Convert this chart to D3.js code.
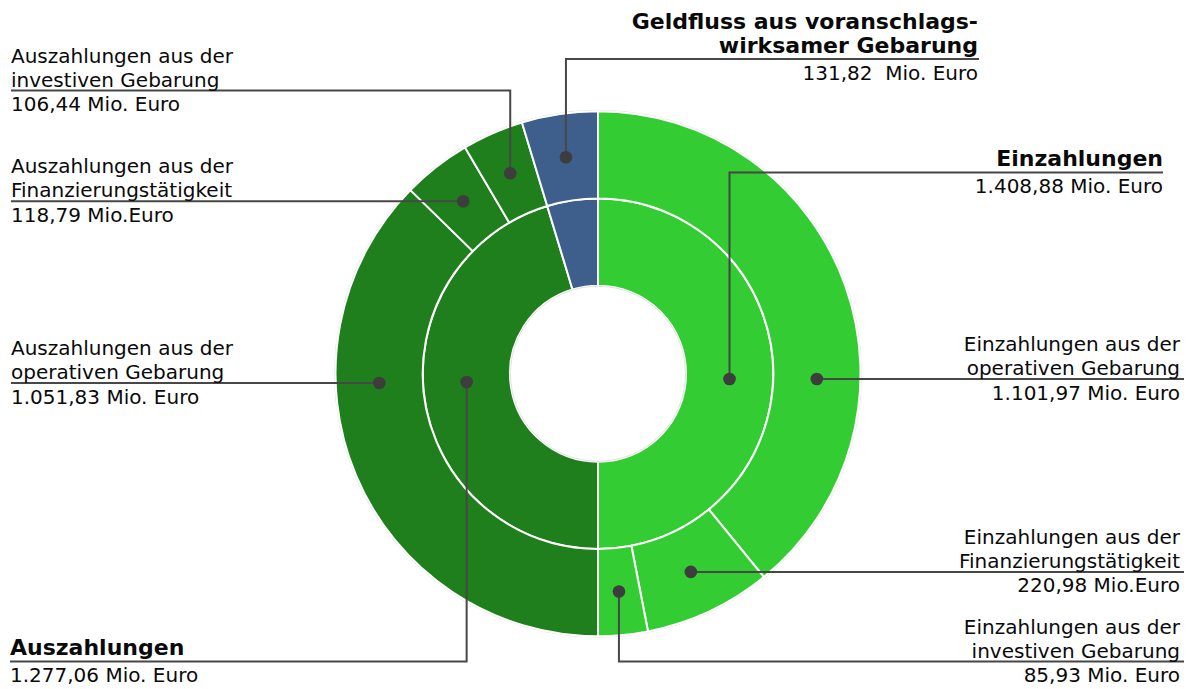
<!DOCTYPE html>
<html>
<head>
<meta charset="utf-8">
<script src="https://cdn.jsdelivr.net/npm/d3@7"></script>
<style>
  body { margin: 0; background: #fff; }
  text { font-family: "DejaVu Sans", Verdana, sans-serif; fill: #0a0a0a; white-space: pre; }
</style>
</head>
<body>
<div id="wrapper"></div>
<script>
// 1. Data

const groupNames = ["Einzahlungen", "Auszahlungen", "Geldfluss aus voranschlagswirksamer Gebarung"];
const groupValues = [1408.88, 1277.06, 131.82];
const partNames = ["operativen Gebarung", "Finanzierungstätigkeit", "investiven Gebarung"];
const einzahlungenParts = [1101.97, 220.98, 85.93];
const auszahlungenParts = [1051.83, 118.79, 106.44];
const groupColors = ["#33cc33", "#1f7f1d", "#3e5f8b"];

// label texts: [group, part (-1 = group ring), title lines, unit after number]
const labelTexts = [
  [2, 0, ["Geldfluss aus voranschlags-", "wirksamer Gebarung"], "  Mio. Euro"],
  [1, 2, ["Auszahlungen aus der", "investiven Gebarung"], " Mio. Euro"],
  [1, 1, ["Auszahlungen aus der", "Finanzierungstätigkeit"], " Mio.Euro"],
  [1, 0, ["Auszahlungen aus der", "operativen Gebarung"], " Mio. Euro"],
  [1, -1, ["Auszahlungen"], " Mio. Euro"],
  [0, -1, ["Einzahlungen"], " Mio. Euro"],
  [0, 0, ["Einzahlungen aus der", "operativen Gebarung"], " Mio. Euro"],
  [0, 1, ["Einzahlungen aus der", "Finanzierungstätigkeit"], " Mio.Euro"],
  [0, 2, ["Einzahlungen aus der", "investiven Gebarung"], " Mio. Euro"],
];

// label layout (same order): text edge, underline end, underline y (null = level with dot), dot mode
const labelLayout = [
  { side: "right", textX: 978, lineEnd: 979, lineY: 59, bold: true, dot: "centroid" },
  { side: "left", textX: 11, lineEnd: 11, lineY: 90.5, bold: false, dot: "centroid" },
  { side: "left", textX: 11, lineEnd: 11, lineY: null, bold: false, dot: "centroid" },
  { side: "left", textX: 11, lineEnd: 11, lineY: 383, bold: false, dot: "level", dotY: 383 },
  { side: "left", textX: 10, lineEnd: 10, lineY: 661.5, bold: true, dot: "level", dotY: 382 },
  { side: "right", textX: 1163, lineEnd: 1163, lineY: 172.5, bold: true, dot: "level", dotY: 379 },
  { side: "right", textX: 1180, lineEnd: 1184, lineY: 379, bold: false, dot: "level", dotY: 379 },
  { side: "right", textX: 1180, lineEnd: 1184, lineY: null, bold: false, dot: "centroid" },
  { side: "right", textX: 1180, lineEnd: 1184, lineY: 661.5, bold: false, dot: "centroid" },
];

// 2. Dimensions

const dimensions = { width: 1192, height: 689, cx: 598, cy: 373.7 };

// 3. Canvas

const wrapper = d3.select("#wrapper")
  .append("svg")
  .attr("width", dimensions.width)
  .attr("height", dimensions.height);

const bounds = wrapper.append("g")
  .attr("transform", `translate(${dimensions.cx},${dimensions.cy})`);

// 4. Hierarchy + scales

const partLists = [einzahlungenParts, auszahlungenParts, [groupValues[2]]];
const tree = {
  name: "root",
  children: groupNames.map((g, i) => ({
    name: g,
    group: i,
    children: partLists[i].map((v, j) => ({
      name: i === 2 ? g : partNames[j], group: i, part: j, value: v,
    })),
  })),
};

const root = d3.hierarchy(tree).sum((d) => d.value || 0);
d3.partition().size([2 * Math.PI, 3])(root);

const radiusScale = d3.scaleLinear().domain([1, 3]).range([88, 262.5]);

const arc = d3.arc()
  .startAngle((d) => d.x0)
  .endAngle((d) => d.x1)
  .innerRadius((d) => radiusScale(d.y0))
  .outerRadius((d) => radiusScale(d.y1));

// 5. Draw data

const nodes = root.descendants().filter((d) => d.depth > 0);

bounds.append("circle")
  .attr("r", radiusScale(3) + 1)
  .attr("fill", "none")
  .attr("stroke", "#e2e2e2")
  .attr("stroke-width", 1);

bounds.selectAll("path.slice")
  .data(nodes)
  .join("path")
  .attr("class", "slice")
  .attr("d", arc)
  .attr("fill", (d) => groupColors[d.data.group])
  .attr("stroke", "#fff")
  .attr("stroke-width", 2);

bounds.append("circle")
  .attr("r", radiusScale(1) - 0.5)
  .attr("fill", "#fff")
  .attr("stroke", "#e2e2e2")
  .attr("stroke-width", 1);

// 6. Labels with leader lines

const fmt = d3.formatLocale({ decimal: ",", thousands: ".", grouping: [3], currency: ["", " €"] }).format(",.2f");

const findNode = (g, p) =>
  nodes.find((n) => (p < 0 ? n.depth === 1 : n.depth === 2 && n.data.part === p) && n.data.group === g);

const labels = labelTexts.map(([g, p, title, unit], i) => {
  const node = findNode(g, p);
  const lay = labelLayout[i];
  let dx, dy;
  if (lay.dot === "centroid") {
    [dx, dy] = arc.centroid(node);
    dx += dimensions.cx;
    dy += dimensions.cy;
  } else {
    const rMid = radiusScale((node.y0 + node.y1) / 2);
    const off = lay.dotY - dimensions.cy;
    const sign = (node.x0 + node.x1) / 2 < Math.PI ? 1 : -1;
    dx = dimensions.cx + sign * Math.sqrt(rMid * rMid - off * off);
    dy = lay.dotY;
  }
  const lineY = lay.lineY == null ? dy : lay.lineY;
  return { title, valueText: fmt(node.value) + unit, lay, dx, dy, lineY };
});

const labelGroup = wrapper.append("g");

labelGroup.selectAll("path.leader")
  .data(labels)
  .join("path")
  .attr("class", "leader")
  .attr("d", (d) => `M${d.dx},${d.dy}V${d.lineY}H${d.lay.lineEnd}`)
  .attr("fill", "none")
  .attr("stroke", "#474747")
  .attr("stroke-width", 2);

labelGroup.selectAll("circle.dot")
  .data(labels)
  .join("circle")
  .attr("class", "dot")
  .attr("cx", (d) => d.dx)
  .attr("cy", (d) => d.dy)
  .attr("r", 6.3)
  .attr("fill", "#3d3d3d");

const labelText = labelGroup.selectAll("g.label")
  .data(labels)
  .join("g")
  .attr("class", "label");

labelText.each(function (d) {
  const g = d3.select(this);
  const anchor = d.lay.side === "left" ? "start" : "end";
  const n = d.title.length;
  d.title.forEach((line, k) => {
    g.append("text")
      .attr("x", d.lay.textX)
      .attr("y", d.lineY - (d.lay.bold ? 6.5 : 4) - (n - 1 - k) * 24)
      .attr("text-anchor", anchor)
      .style("font-size", d.lay.bold ? "22px" : "20px")
      .style("font-weight", d.lay.bold ? "bold" : "normal")
      .text(line);
  });
  g.append("text")
    .attr("x", d.lay.textX)
    .attr("y", d.lineY + 20.5)
    .attr("text-anchor", anchor)
    .style("font-size", "20px")
    .text(d.valueText);
});
</script>
</body>
</html>
